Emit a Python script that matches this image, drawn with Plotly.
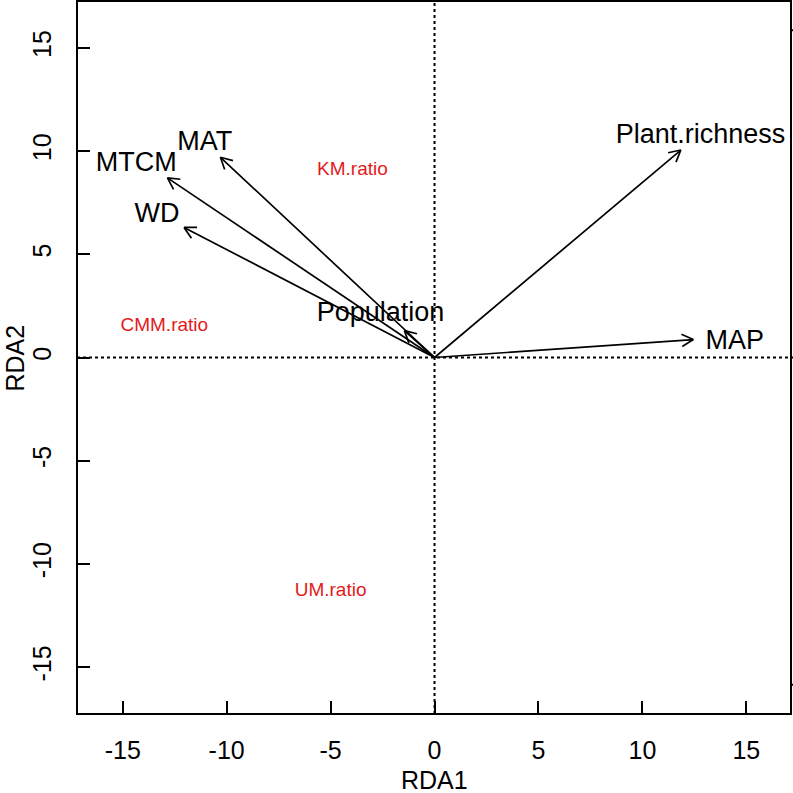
import math
import plotly.graph_objects as go

# Biplot arrows (environmental variables)
var_names = ["Plant.richness", "MAP", "MAT", "MTCM", "WD", "Population"]
var_x = [11.85, 12.45, -10.3, -12.85, -12.05, -1.45]
var_y = [10.05, 0.87, 9.7, 8.7, 6.3, 1.3]
# label positions for the arrows
lab_x = [12.8, 14.45, -11.05, -14.35, -13.35, -2.6]
lab_y = [10.7, 0.75, 10.4, 9.35, 6.9, 2.1]

# Response (species) labels
sp_names = ["KM.ratio", "CMM.ratio", "UM.ratio"]
sp_x = [-3.95, -13.0, -5.0]
sp_y = [9.05, 1.5, -11.3]

xtick_vals = [-15, -10, -5, 0, 5, 10, 15]
ytick_vals = [-15, -10, -5, 0, 5, 10, 15]
sec_ticks = [-15.85, 0, 15.85]

XR = [-17.2, 17.15]
YR = [-17.27, 17.27]
W, H = 793, 793
ML, MR, MT, MB = 77, 2, 1, 79
pw = W - ML - MR
ph = H - MT - MB
sx = pw / (XR[1] - XR[0])  # px per unit
sy = ph / (YR[1] - YR[0])

# build arrow geometry (shaft + open head) from the data
head_px = 13
ang = math.radians(28)
ax, ay = [], []
for x, y in zip(var_x, var_y):
    ax += [0, x, None]
    ay += [0, y, None]
    dxp, dyp = x * sx, y * sy
    th = math.atan2(dyp, dxp)
    for s in (1, -1):
        a = th + math.pi + s * ang
        hx = x + head_px * math.cos(a) / sx
        hy = y + head_px * math.sin(a) / sy
        ax += [x, hx, None]
        ay += [y, hy, None]

FAM = "Liberation Sans, Arial"
fig = go.Figure()
fig.add_trace(go.Scatter(x=ax, y=ay, mode="lines",
                         line=dict(color="black", width=1.7),
                         hoverinfo="skip", showlegend=False))
fig.add_trace(go.Scatter(x=lab_x, y=lab_y, mode="text", text=var_names,
                         textfont=dict(family=FAM, size=27, color="black"),
                         textposition="middle center", showlegend=False))
fig.add_trace(go.Scatter(x=sp_x, y=sp_y, mode="text", text=sp_names,
                         textfont=dict(family=FAM, size=19, color="#e31a1c"),
                         textposition="middle center", showlegend=False))

shapes = [
    dict(type="line", x0=0, x1=0, y0=0, y1=1, xref="x", yref="paper",
         line=dict(color="black", width=2, dash="dot"), layer="below"),
    dict(type="line", x0=0, x1=1, y0=0, y1=0, xref="paper", yref="y",
         line=dict(color="black", width=2, dash="dot"), layer="below"),
    dict(type="rect", x0=0, x1=1, y0=0, y1=1, xref="paper", yref="paper",
         line=dict(color="black", width=2)),
]
for t in sec_ticks:
    shapes.append(dict(type="line", x0=t, x1=t, y0=1, y1=1.02, xref="x", yref="paper",
                       line=dict(color="black", width=2)))
    shapes.append(dict(type="line", x0=1, x1=1.02, y0=t, y1=t, xref="paper", yref="y",
                       line=dict(color="black", width=2)))

font = dict(family=FAM, size=25, color="black")
annotations = [
    dict(text="RDA1", x=0.5, y=(MT + ph - 780) / ph, xref="paper", yref="paper",
         xanchor="center", yanchor="middle", showarrow=False, font=font),
    dict(text="RDA2", x=(14 - ML) / pw, y=0.5, xref="paper", yref="paper",
         xanchor="center", yanchor="middle", showarrow=False, font=font, textangle=-90),
]
fig.update_layout(
    width=W, height=H,
    margin=dict(l=ML, r=MR, t=MT, b=MB, autoexpand=False),
    plot_bgcolor="white", paper_bgcolor="white",
    shapes=shapes, annotations=annotations,
    font=font,
    xaxis=dict(range=XR, tickvals=xtick_vals, ticktext=[str(v) for v in xtick_vals],
               ticks="inside", ticklen=13, tickwidth=2, tickcolor="black",
               showgrid=False, zeroline=False, showline=False, automargin=False,
               tickfont=font, ticklabelstandoff=19),
    yaxis=dict(range=YR, tickvals=ytick_vals, ticktext=[str(v) for v in ytick_vals],
               ticks="inside", ticklen=13, tickwidth=2, tickcolor="black",
               showgrid=False, zeroline=False, showline=False, automargin=False,
               tickfont=font, tickangle=-90, ticklabelstandoff=20),
)
fig.write_html("out.html", config={"displayModeBar": False},
               post_script="document.body.style.margin='0';document.body.style.overflow='hidden';")
